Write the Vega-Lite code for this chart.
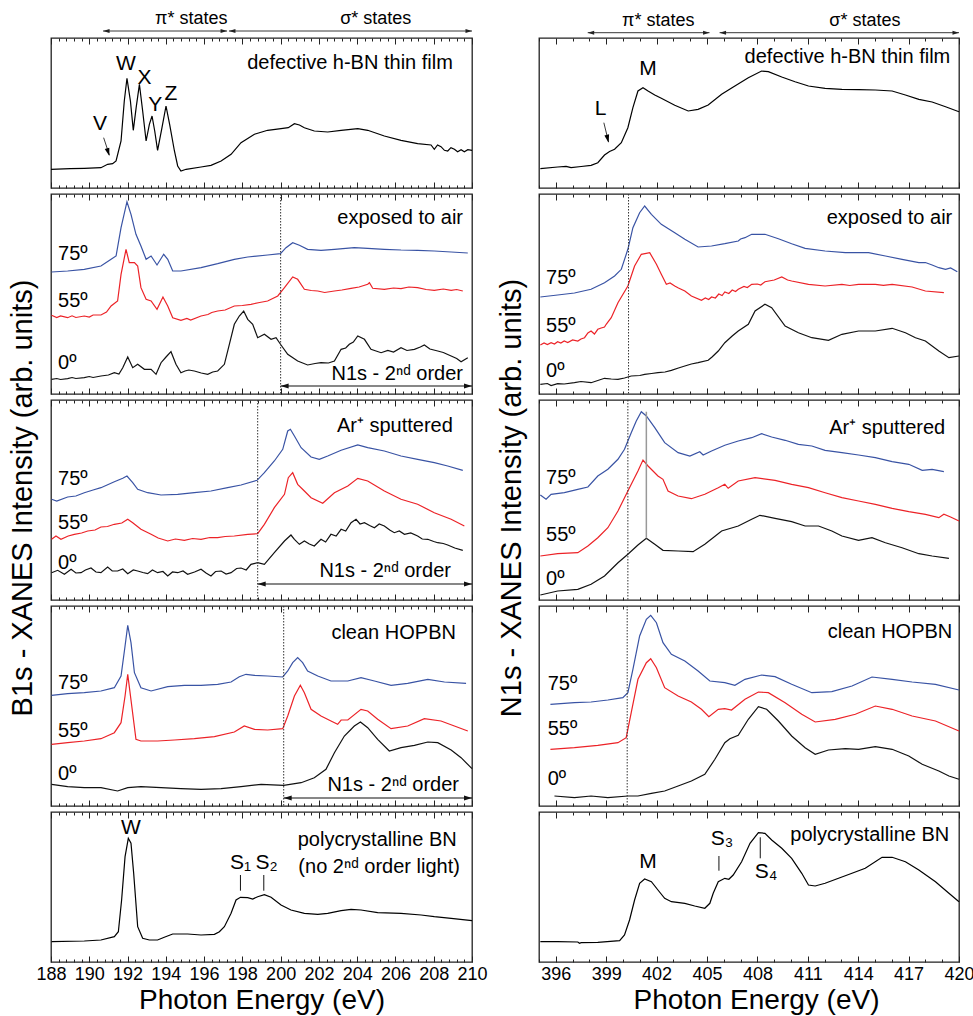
{
"$schema":"https://vega.github.io/schema/vega-lite/v6.json",
"background":"white",
"padding":{"left":8,"top":9,"right":0,"bottom":0},
"config":{
 "font":"Liberation Sans",
 "view":{"stroke":"#222","strokeWidth":1.3},
 "axis":{"domain":false,"grid":false,"ticks":true,"tickColor":"#222","tickWidth":1,"labelColor":"black","labelFontSize":18,"labelFont":"Liberation Sans","labelFlush":false,"labelOverlap":false,"titleColor":"black","titleFont":"Liberation Sans","titleFontWeight":"normal","titleFontSize":28},
 "text":{"font":"Liberation Sans","fill":"black"}
},
"datasets":{
"l1":[{"e":188.0,"v":18.7},{"e":189.0,"v":19.3},{"e":189.74,"v":19.7},{"e":190.61,"v":20.3},{"e":190.96,"v":23.7},{"e":191.22,"v":24.3},{"e":191.4,"v":27},{"e":191.66,"v":47},{"e":191.83,"v":87},{"e":191.97,"v":109.7},{"e":192.15,"v":87},{"e":192.3,"v":57.7},{"e":192.45,"v":80.3},{"e":192.62,"v":103.7},{"e":192.79,"v":77},{"e":192.97,"v":47},{"e":193.14,"v":63.7},{"e":193.28,"v":72},{"e":193.42,"v":57},{"e":193.57,"v":37.7},{"e":193.8,"v":60.3},{"e":194.01,"v":82},{"e":194.2,"v":63.7},{"e":194.45,"v":37},{"e":194.62,"v":22},{"e":194.79,"v":17},{"e":195.06,"v":18.7},{"e":195.84,"v":21},{"e":196.36,"v":22.7},{"e":196.89,"v":27},{"e":197.41,"v":33.7},{"e":197.93,"v":45.3},{"e":198.63,"v":53.7},{"e":199.32,"v":57.7},{"e":200.02,"v":59.3},{"e":200.4,"v":60.3},{"e":200.72,"v":64.3},{"e":200.98,"v":63},{"e":201.24,"v":60.3},{"e":201.76,"v":57},{"e":202.46,"v":56},{"e":203.16,"v":57.7},{"e":204.03,"v":59.3},{"e":204.55,"v":57.7},{"e":205.42,"v":52},{"e":206.29,"v":47.7},{"e":207.16,"v":44.3},{"e":207.86,"v":43},{"e":208.03,"v":38.7},{"e":208.2,"v":43},{"e":208.38,"v":41.3},{"e":208.56,"v":37.7},{"e":208.73,"v":37},{"e":208.9,"v":40.3},{"e":209.08,"v":38.7},{"e":209.25,"v":36.3},{"e":209.43,"v":38.3},{"e":209.6,"v":36.3},{"e":209.78,"v":38.3},{"e":210,"v":37.7}],
"r1":[{"e":395.08,"v":19.3},{"e":396.11,"v":21},{"e":396.61,"v":21.7},{"e":396.91,"v":20.3},{"e":397.51,"v":21.5},{"e":398.1,"v":22.7},{"e":398.5,"v":25.3},{"e":398.9,"v":33},{"e":399.2,"v":36.5},{"e":399.5,"v":38.7},{"e":399.9,"v":45.3},{"e":400.29,"v":60.3},{"e":400.59,"v":80.3},{"e":400.89,"v":97},{"e":401.19,"v":100.3},{"e":401.49,"v":97},{"e":401.89,"v":93},{"e":402.28,"v":89.7},{"e":403.08,"v":82.7},{"e":403.88,"v":77},{"e":404.47,"v":78.7},{"e":405.07,"v":83},{"e":405.87,"v":93.7},{"e":406.66,"v":102},{"e":407.46,"v":110.3},{"e":408.25,"v":117},{"e":408.65,"v":116.3},{"e":409.45,"v":111},{"e":410.24,"v":106.3},{"e":411.04,"v":102},{"e":412.03,"v":99.7},{"e":413.03,"v":98.7},{"e":414.02,"v":98.3},{"e":415.02,"v":98},{"e":416.02,"v":97},{"e":416.81,"v":93},{"e":417.61,"v":88.7},{"e":418.4,"v":86},{"e":419.2,"v":81.3},{"e":420,"v":76.3}],
"l2":[
{"s":"75","e":188.03,"v":122},{"s":"75","e":188.87,"v":123},{"s":"75","e":189.74,"v":124.7},{"s":"75","e":190.61,"v":128},{"s":"75","e":191.14,"v":134.7},{"s":"75","e":191.4,"v":138},{"s":"75","e":191.66,"v":166.3},{"s":"75","e":191.97,"v":192.3},{"s":"75","e":192.18,"v":179.7},{"s":"75","e":192.44,"v":159.7},{"s":"75","e":192.7,"v":148},{"s":"75","e":192.97,"v":134.7},{"s":"75","e":193.23,"v":138},{"s":"75","e":193.54,"v":129},{"s":"75","e":193.89,"v":139.7},{"s":"75","e":194.1,"v":134.7},{"s":"75","e":194.36,"v":123},{"s":"75","e":194.79,"v":123},{"s":"75","e":195.84,"v":126.3},{"s":"75","e":196.71,"v":130.3},{"s":"75","e":197.58,"v":134.7},{"s":"75","e":198.28,"v":137},{"s":"75","e":199.32,"v":139},{"s":"75","e":199.99,"v":140.3},{"s":"75","e":200.28,"v":146.3},{"s":"75","e":200.63,"v":151.3},{"s":"75","e":200.98,"v":148.7},{"s":"75","e":201.41,"v":144.7},{"s":"75","e":202.11,"v":143.7},{"s":"75","e":202.81,"v":144.7},{"s":"75","e":203.85,"v":146.3},{"s":"75","e":204.55,"v":145.7},{"s":"75","e":205.42,"v":144.7},{"s":"75","e":206.29,"v":144},{"s":"75","e":207.16,"v":143.7},{"s":"75","e":208.03,"v":143},{"s":"75","e":208.91,"v":142},{"s":"75","e":209.78,"v":141},
{"s":"55","e":188.03,"v":78.7},{"s":"55","e":188.3,"v":76.5},{"s":"55","e":188.5,"v":78},{"s":"55","e":188.87,"v":76.3},{"s":"55","e":189.1,"v":78.2},{"s":"55","e":189.3,"v":76.5},{"s":"55","e":189.74,"v":78},{"s":"55","e":190.0,"v":77},{"s":"55","e":190.2,"v":79},{"s":"55","e":190.61,"v":79},{"s":"55","e":190.9,"v":82},{"s":"55","e":191.14,"v":88},{"s":"55","e":191.48,"v":93},{"s":"55","e":191.66,"v":119.7},{"s":"55","e":191.92,"v":144.7},{"s":"55","e":192.09,"v":131.3},{"s":"55","e":192.36,"v":131.3},{"s":"55","e":192.53,"v":128},{"s":"55","e":192.7,"v":106.3},{"s":"55","e":192.97,"v":94.7},{"s":"55","e":193.23,"v":93},{"s":"55","e":193.54,"v":84.7},{"s":"55","e":193.85,"v":97},{"s":"55","e":194.1,"v":88},{"s":"55","e":194.36,"v":76.3},{"s":"55","e":194.79,"v":73.7},{"s":"55","e":195.1,"v":75.5},{"s":"55","e":195.3,"v":74},{"s":"55","e":195.84,"v":78},{"s":"55","e":196.2,"v":79.5},{"s":"55","e":196.4,"v":81.5},{"s":"55","e":196.71,"v":83},{"s":"55","e":197.1,"v":84},{"s":"55","e":197.58,"v":88},{"s":"55","e":198.0,"v":88.5},{"s":"55","e":198.45,"v":89.7},{"s":"55","e":198.9,"v":91.5},{"s":"55","e":199.32,"v":93},{"s":"55","e":199.85,"v":98},{"s":"55","e":200.2,"v":106.3},{"s":"55","e":200.63,"v":117},{"s":"55","e":200.89,"v":114.7},{"s":"55","e":201.24,"v":104.7},{"s":"55","e":201.6,"v":103.5},{"s":"55","e":201.94,"v":103},{"s":"55","e":202.3,"v":101.5},{"s":"55","e":202.81,"v":103},{"s":"55","e":203.2,"v":104},{"s":"55","e":203.68,"v":105.7},{"s":"55","e":204.1,"v":107},{"s":"55","e":204.55,"v":109.7},{"s":"55","e":204.64,"v":111.3},{"s":"55","e":204.81,"v":105.7},{"s":"55","e":205.42,"v":104.7},{"s":"55","e":205.9,"v":106},{"s":"55","e":206.29,"v":105.3},{"s":"55","e":206.7,"v":107},{"s":"55","e":207.16,"v":106.3},{"s":"55","e":207.6,"v":104.5},{"s":"55","e":208.03,"v":103.7},{"s":"55","e":208.5,"v":105},{"s":"55","e":208.91,"v":103.7},{"s":"55","e":209.2,"v":104.5},{"s":"55","e":209.52,"v":103},
{"s":"0","e":188.03,"v":14.7},{"s":"0","e":188.3,"v":15.5},{"s":"0","e":188.5,"v":14.5},{"s":"0","e":188.87,"v":15.3},{"s":"0","e":189.1,"v":16.5},{"s":"0","e":189.3,"v":15.5},{"s":"0","e":189.74,"v":16.3},{"s":"0","e":190.0,"v":17.5},{"s":"0","e":190.2,"v":16.5},{"s":"0","e":190.61,"v":18},{"s":"0","e":191.0,"v":19},{"s":"0","e":191.31,"v":21.3},{"s":"0","e":191.55,"v":20},{"s":"0","e":191.75,"v":26.3},{"s":"0","e":192.01,"v":37},{"s":"0","e":192.27,"v":26.3},{"s":"0","e":192.53,"v":29.7},{"s":"0","e":192.88,"v":24.7},{"s":"0","e":193.23,"v":24.7},{"s":"0","e":193.49,"v":19.7},{"s":"0","e":193.75,"v":31.3},{"s":"0","e":194.01,"v":37},{"s":"0","e":194.27,"v":42.3},{"s":"0","e":194.53,"v":29.7},{"s":"0","e":194.79,"v":21.3},{"s":"0","e":195.0,"v":23},{"s":"0","e":195.2,"v":24},{"s":"0","e":195.49,"v":23},{"s":"0","e":195.85,"v":21},{"s":"0","e":196.19,"v":19.7},{"s":"0","e":196.45,"v":22},{"s":"0","e":196.71,"v":23},{"s":"0","e":197.06,"v":29.7},{"s":"0","e":197.32,"v":49.7},{"s":"0","e":197.58,"v":69.7},{"s":"0","e":197.84,"v":78},{"s":"0","e":198.07,"v":83},{"s":"0","e":198.28,"v":74.7},{"s":"0","e":198.54,"v":69.7},{"s":"0","e":198.8,"v":56.3},{"s":"0","e":199.15,"v":59.7},{"s":"0","e":199.5,"v":54.7},{"s":"0","e":199.76,"v":56.3},{"s":"0","e":200.02,"v":49},{"s":"0","e":200.37,"v":39.7},{"s":"0","e":200.89,"v":33},{"s":"0","e":201.41,"v":29},{"s":"0","e":201.8,"v":30.5},{"s":"0","e":202.11,"v":31.3},{"s":"0","e":202.5,"v":31},{"s":"0","e":202.81,"v":33},{"s":"0","e":203.16,"v":44.7},{"s":"0","e":203.4,"v":46},{"s":"0","e":203.59,"v":49.7},{"s":"0","e":203.8,"v":52},{"s":"0","e":204.03,"v":58},{"s":"0","e":204.38,"v":54.7},{"s":"0","e":204.72,"v":44.7},{"s":"0","e":205.25,"v":41.3},{"s":"0","e":205.6,"v":43.5},{"s":"0","e":205.9,"v":42},{"s":"0","e":206.29,"v":46.3},{"s":"0","e":206.6,"v":43.5},{"s":"0","e":206.99,"v":44.7},{"s":"0","e":207.3,"v":47},{"s":"0","e":207.51,"v":49},{"s":"0","e":207.8,"v":45},{"s":"0","e":208.21,"v":43},{"s":"0","e":208.5,"v":41.5},{"s":"0","e":208.91,"v":38},{"s":"0","e":209.2,"v":35.5},{"s":"0","e":209.43,"v":32.3},{"s":"0","e":209.78,"v":36.3}],
"r2":[
{"s":"75","e":395.08,"v":97},{"s":"75","e":396.11,"v":99},{"s":"75","e":397.11,"v":101},{"s":"75","e":398.1,"v":104.7},{"s":"75","e":398.9,"v":111.3},{"s":"75","e":399.5,"v":118},{"s":"75","e":399.9,"v":124.7},{"s":"75","e":400.29,"v":144.7},{"s":"75","e":400.59,"v":166.3},{"s":"75","e":400.99,"v":181.3},{"s":"75","e":401.29,"v":188},{"s":"75","e":401.69,"v":179.7},{"s":"75","e":402.28,"v":169.7},{"s":"75","e":403.08,"v":161.3},{"s":"75","e":403.68,"v":154.7},{"s":"75","e":404.47,"v":147},{"s":"75","e":405.27,"v":148},{"s":"75","e":406.06,"v":150.3},{"s":"75","e":406.86,"v":153},{"s":"75","e":407.0,"v":155},{"s":"75","e":407.26,"v":156.3},{"s":"75","e":407.66,"v":159.7},{"s":"75","e":408.45,"v":159.7},{"s":"75","e":409.25,"v":155.3},{"s":"75","e":410.04,"v":150.3},{"s":"75","e":410.84,"v":145.7},{"s":"75","e":412.03,"v":143},{"s":"75","e":413.23,"v":141.3},{"s":"75","e":414.62,"v":141.3},{"s":"75","e":415.62,"v":138},{"s":"75","e":416.61,"v":134.7},{"s":"75","e":417.61,"v":131.3},{"s":"75","e":418.0,"v":131.5},{"s":"75","e":418.4,"v":129},{"s":"75","e":418.8,"v":126.3},{"s":"75","e":419.2,"v":124.7},{"s":"75","e":419.5,"v":126},{"s":"75","e":419.9,"v":122.3},
{"s":"55","e":395.08,"v":49},{"s":"55","e":395.3,"v":51},{"s":"55","e":395.5,"v":49.5},{"s":"55","e":395.72,"v":51.3},{"s":"55","e":395.92,"v":50},{"s":"55","e":396.11,"v":52.3},{"s":"55","e":396.3,"v":51},{"s":"55","e":396.5,"v":53},{"s":"55","e":396.71,"v":51.5},{"s":"55","e":397.0,"v":54},{"s":"55","e":397.31,"v":53},{"s":"55","e":397.5,"v":55},{"s":"55","e":397.71,"v":56.3},{"s":"55","e":397.91,"v":61},{"s":"55","e":398.1,"v":63},{"s":"55","e":398.3,"v":60},{"s":"55","e":398.5,"v":64.7},{"s":"55","e":398.7,"v":66},{"s":"55","e":398.9,"v":67},{"s":"55","e":399.0,"v":69.7},{"s":"55","e":399.3,"v":76.3},{"s":"55","e":399.7,"v":91.3},{"s":"55","e":400.29,"v":108},{"s":"55","e":400.69,"v":128},{"s":"55","e":401.09,"v":139.7},{"s":"55","e":401.59,"v":141.3},{"s":"55","e":401.99,"v":129.7},{"s":"55","e":402.28,"v":119.7},{"s":"55","e":402.58,"v":109.7},{"s":"55","e":402.8,"v":111},{"s":"55","e":403.08,"v":108},{"s":"55","e":403.3,"v":106},{"s":"55","e":403.68,"v":103},{"s":"55","e":404.07,"v":98},{"s":"55","e":404.67,"v":93.7},{"s":"55","e":404.9,"v":96},{"s":"55","e":405.1,"v":94.5},{"s":"55","e":405.27,"v":97},{"s":"55","e":405.5,"v":96},{"s":"55","e":405.7,"v":100},{"s":"55","e":405.9,"v":98.5},{"s":"55","e":406.06,"v":102},{"s":"55","e":406.3,"v":100.5},{"s":"55","e":406.5,"v":104},{"s":"55","e":406.7,"v":102.5},{"s":"55","e":406.86,"v":104.7},{"s":"55","e":407.2,"v":107.5},{"s":"55","e":407.4,"v":106.5},{"s":"55","e":407.66,"v":109.7},{"s":"55","e":408.0,"v":110},{"s":"55","e":408.2,"v":109},{"s":"55","e":408.45,"v":112.3},{"s":"55","e":409.0,"v":114},{"s":"55","e":409.45,"v":117},{"s":"55","e":409.8,"v":114},{"s":"55","e":410.04,"v":113},{"s":"55","e":411.04,"v":109.7},{"s":"55","e":412.03,"v":108},{"s":"55","e":413.03,"v":109.7},{"s":"55","e":413.5,"v":108.5},{"s":"55","e":414.02,"v":109.7},{"s":"55","e":415.02,"v":109.7},{"s":"55","e":415.5,"v":108.7},{"s":"55","e":416.02,"v":109.7},{"s":"55","e":417.21,"v":107},{"s":"55","e":418.0,"v":103},{"s":"55","e":419.1,"v":101.3},
{"s":"0","e":395.08,"v":9.7},{"s":"0","e":395.5,"v":10.5},{"s":"0","e":395.72,"v":8.5},{"s":"0","e":396.11,"v":10.3},{"s":"0","e":396.5,"v":10},{"s":"0","e":397.11,"v":11.3},{"s":"0","e":397.5,"v":12.5},{"s":"0","e":398.1,"v":11.3},{"s":"0","e":398.5,"v":13.5},{"s":"0","e":398.9,"v":15.7},{"s":"0","e":399.3,"v":15},{"s":"0","e":399.7,"v":14.7},{"s":"0","e":400.09,"v":16},{"s":"0","e":400.49,"v":18},{"s":"0","e":401.0,"v":18.5},{"s":"0","e":401.29,"v":19.7},{"s":"0","e":401.7,"v":20.5},{"s":"0","e":402.08,"v":21.3},{"s":"0","e":402.5,"v":22},{"s":"0","e":402.88,"v":23.7},{"s":"0","e":403.3,"v":26},{"s":"0","e":403.68,"v":28},{"s":"0","e":404.07,"v":30},{"s":"0","e":404.47,"v":31.3},{"s":"0","e":405.07,"v":33.7},{"s":"0","e":405.3,"v":37},{"s":"0","e":405.67,"v":43},{"s":"0","e":406.06,"v":51.3},{"s":"0","e":406.5,"v":58},{"s":"0","e":406.86,"v":63},{"s":"0","e":407.46,"v":69.7},{"s":"0","e":407.86,"v":83},{"s":"0","e":408.45,"v":89.7},{"s":"0","e":408.85,"v":86.3},{"s":"0","e":409.65,"v":68},{"s":"0","e":410.44,"v":61.3},{"s":"0","e":411.24,"v":56.3},{"s":"0","e":412.23,"v":53.7},{"s":"0","e":413.03,"v":59.7},{"s":"0","e":414.02,"v":63},{"s":"0","e":415.02,"v":63},{"s":"0","e":416.02,"v":65.7},{"s":"0","e":416.81,"v":61.3},{"s":"0","e":417.41,"v":56.3},{"s":"0","e":418.0,"v":53},{"s":"0","e":418.8,"v":43},{"s":"0","e":419.4,"v":36.3},{"s":"0","e":420,"v":38}],
"l3":[
{"s":"75","e":188.03,"v":100.7},{"s":"75","e":188.3,"v":99},{"s":"75","e":188.87,"v":103},{"s":"75","e":189.3,"v":104},{"s":"75","e":189.74,"v":107.3},{"s":"75","e":190.2,"v":110},{"s":"75","e":190.61,"v":112.3},{"s":"75","e":191.31,"v":118.3},{"s":"75","e":191.75,"v":121.7},{"s":"75","e":191.97,"v":124},{"s":"75","e":192.27,"v":117.3},{"s":"75","e":192.53,"v":110.7},{"s":"75","e":193.05,"v":107.3},{"s":"75","e":193.75,"v":105},{"s":"75","e":194.62,"v":105.7},{"s":"75","e":195.49,"v":107.3},{"s":"75","e":196.36,"v":109},{"s":"75","e":197.23,"v":112.3},{"s":"75","e":197.93,"v":115},{"s":"75","e":198.77,"v":119.7},{"s":"75","e":199.15,"v":127.3},{"s":"75","e":199.67,"v":139},{"s":"75","e":200.11,"v":150.7},{"s":"75","e":200.37,"v":169},{"s":"75","e":200.51,"v":170.7},{"s":"75","e":200.72,"v":164},{"s":"75","e":201.07,"v":152.3},{"s":"75","e":201.59,"v":143},{"s":"75","e":202.02,"v":140.7},{"s":"75","e":202.46,"v":144},{"s":"75","e":203.16,"v":149.7},{"s":"75","e":204.03,"v":155},{"s":"75","e":204.55,"v":152.3},{"s":"75","e":205.42,"v":149},{"s":"75","e":206.29,"v":144},{"s":"75","e":207.16,"v":140.7},{"s":"75","e":208.03,"v":137.3},{"s":"75","e":208.73,"v":134},{"s":"75","e":209.52,"v":129.7},
{"s":"55","e":188.03,"v":60.7},{"s":"55","e":188.26,"v":64},{"s":"55","e":188.52,"v":60.7},{"s":"55","e":188.9,"v":64},{"s":"55","e":189.22,"v":65.7},{"s":"55","e":189.6,"v":67},{"s":"55","e":189.92,"v":69},{"s":"55","e":190.3,"v":70},{"s":"55","e":190.61,"v":73},{"s":"55","e":190.95,"v":73.5},{"s":"55","e":191.31,"v":75.7},{"s":"55","e":191.7,"v":77},{"s":"55","e":192.01,"v":80.7},{"s":"55","e":192.27,"v":77.3},{"s":"55","e":192.7,"v":70.7},{"s":"55","e":193.23,"v":65.7},{"s":"55","e":193.6,"v":62},{"s":"55","e":194.1,"v":59},{"s":"55","e":194.5,"v":61},{"s":"55","e":194.97,"v":59.7},{"s":"55","e":195.4,"v":61.5},{"s":"55","e":195.84,"v":60.7},{"s":"55","e":196.3,"v":62.5},{"s":"55","e":196.71,"v":62.3},{"s":"55","e":197.1,"v":63.5},{"s":"55","e":197.58,"v":64},{"s":"55","e":198.28,"v":65.7},{"s":"55","e":198.8,"v":66.3},{"s":"55","e":199.15,"v":75.7},{"s":"55","e":199.67,"v":92.3},{"s":"55","e":200.2,"v":105.7},{"s":"55","e":200.4,"v":122.3},{"s":"55","e":200.63,"v":127.3},{"s":"55","e":200.89,"v":115.7},{"s":"55","e":201.24,"v":109},{"s":"55","e":201.59,"v":102.3},{"s":"55","e":202.2,"v":96.7},{"s":"55","e":202.81,"v":107.3},{"s":"55","e":203.51,"v":114},{"s":"55","e":204.03,"v":121.7},{"s":"55","e":204.55,"v":119},{"s":"55","e":205.42,"v":109},{"s":"55","e":206.29,"v":100.7},{"s":"55","e":207.16,"v":95.7},{"s":"55","e":208.03,"v":87.3},{"s":"55","e":208.91,"v":80.7},{"s":"55","e":209.6,"v":74},
{"s":"0","e":188.03,"v":27.3},{"s":"0","e":188.35,"v":29.7},{"s":"0","e":188.7,"v":25.7},{"s":"0","e":189.05,"v":30.7},{"s":"0","e":189.3,"v":27},{"s":"0","e":189.57,"v":27.3},{"s":"0","e":189.8,"v":30},{"s":"0","e":190.09,"v":32},{"s":"0","e":190.35,"v":28},{"s":"0","e":190.61,"v":27.3},{"s":"0","e":190.96,"v":33},{"s":"0","e":191.2,"v":29},{"s":"0","e":191.48,"v":29},{"s":"0","e":191.75,"v":31},{"s":"0","e":192.01,"v":26.3},{"s":"0","e":192.3,"v":30},{"s":"0","e":192.53,"v":29},{"s":"0","e":192.8,"v":27.5},{"s":"0","e":193.05,"v":26.3},{"s":"0","e":193.3,"v":30},{"s":"0","e":193.57,"v":27.3},{"s":"0","e":193.85,"v":28.5},{"s":"0","e":194.1,"v":24},{"s":"0","e":194.35,"v":28},{"s":"0","e":194.62,"v":27.3},{"s":"0","e":194.9,"v":29},{"s":"0","e":195.14,"v":25.7},{"s":"0","e":195.5,"v":28},{"s":"0","e":195.84,"v":30.7},{"s":"0","e":196.1,"v":27},{"s":"0","e":196.36,"v":24},{"s":"0","e":196.6,"v":28.5},{"s":"0","e":196.89,"v":29},{"s":"0","e":197.15,"v":26},{"s":"0","e":197.41,"v":27.3},{"s":"0","e":197.7,"v":31.5},{"s":"0","e":197.93,"v":32},{"s":"0","e":198.2,"v":30},{"s":"0","e":198.45,"v":35.7},{"s":"0","e":198.8,"v":37.3},{"s":"0","e":199.15,"v":35.7},{"s":"0","e":199.67,"v":47.3},{"s":"0","e":200.2,"v":59},{"s":"0","e":200.54,"v":65},{"s":"0","e":200.72,"v":60.7},{"s":"0","e":200.98,"v":55.7},{"s":"0","e":201.24,"v":59},{"s":"0","e":201.5,"v":56},{"s":"0","e":201.76,"v":54},{"s":"0","e":202.11,"v":60.7},{"s":"0","e":202.35,"v":58},{"s":"0","e":202.63,"v":65.7},{"s":"0","e":202.9,"v":64},{"s":"0","e":203.16,"v":70.7},{"s":"0","e":203.4,"v":69},{"s":"0","e":203.68,"v":77.3},{"s":"0","e":203.94,"v":80.7},{"s":"0","e":204.15,"v":76},{"s":"0","e":204.38,"v":77.3},{"s":"0","e":204.65,"v":74.5},{"s":"0","e":204.9,"v":72.3},{"s":"0","e":205.15,"v":76},{"s":"0","e":205.42,"v":74},{"s":"0","e":205.7,"v":70},{"s":"0","e":205.94,"v":67.3},{"s":"0","e":206.2,"v":69},{"s":"0","e":206.47,"v":65.7},{"s":"0","e":206.8,"v":67},{"s":"0","e":207.16,"v":64},{"s":"0","e":207.4,"v":61},{"s":"0","e":207.69,"v":60.7},{"s":"0","e":208.0,"v":58.5},{"s":"0","e":208.21,"v":57.3},{"s":"0","e":208.5,"v":56.5},{"s":"0","e":208.73,"v":55},{"s":"0","e":209.1,"v":52},{"s":"0","e":209.52,"v":49.7}],
"r3":[
{"s":"75","e":395.08,"v":105},{"s":"75","e":395.42,"v":100.7},{"s":"75","e":395.72,"v":105.7},{"s":"75","e":396.51,"v":107.3},{"s":"75","e":397.31,"v":110.7},{"s":"75","e":397.91,"v":113},{"s":"75","e":398.5,"v":124},{"s":"75","e":399.1,"v":130.7},{"s":"75","e":399.7,"v":140.7},{"s":"75","e":400.09,"v":150.7},{"s":"75","e":400.49,"v":167.3},{"s":"75","e":400.79,"v":179},{"s":"75","e":401.09,"v":188.3},{"s":"75","e":401.39,"v":184},{"s":"75","e":401.89,"v":172.3},{"s":"75","e":402.48,"v":157.3},{"s":"75","e":403.28,"v":147.3},{"s":"75","e":403.98,"v":144},{"s":"75","e":404.57,"v":148.3},{"s":"75","e":404.77,"v":145},{"s":"75","e":405.27,"v":149},{"s":"75","e":406.06,"v":154.7},{"s":"75","e":406.86,"v":159},{"s":"75","e":407.66,"v":162.3},{"s":"75","e":408.25,"v":166.3},{"s":"75","e":408.85,"v":163},{"s":"75","e":409.65,"v":159.7},{"s":"75","e":410.44,"v":155.7},{"s":"75","e":411.24,"v":154},{"s":"75","e":412.03,"v":149.7},{"s":"75","e":413.03,"v":147.3},{"s":"75","e":414.02,"v":145},{"s":"75","e":415.02,"v":142.3},{"s":"75","e":416.02,"v":138.3},{"s":"75","e":417.01,"v":135.7},{"s":"75","e":417.81,"v":129.7},{"s":"75","e":418.4,"v":130.7},{"s":"75","e":419.1,"v":128.3},
{"s":"55","e":395.08,"v":44},{"s":"55","e":396.11,"v":46.3},{"s":"55","e":397.31,"v":47.3},{"s":"55","e":397.91,"v":54},{"s":"55","e":398.5,"v":62.3},{"s":"55","e":399.1,"v":72.3},{"s":"55","e":399.7,"v":89},{"s":"55","e":400.29,"v":109},{"s":"55","e":400.89,"v":129},{"s":"55","e":401.19,"v":140},{"s":"55","e":401.49,"v":134},{"s":"55","e":402.08,"v":124},{"s":"55","e":402.38,"v":120.7},{"s":"55","e":402.68,"v":109},{"s":"55","e":403.28,"v":104},{"s":"55","e":404.07,"v":101.3},{"s":"55","e":404.87,"v":105.7},{"s":"55","e":405.67,"v":112.3},{"s":"55","e":406.06,"v":115.7},{"s":"55","e":406.26,"v":111.7},{"s":"55","e":406.86,"v":119},{"s":"55","e":407.86,"v":122.3},{"s":"55","e":409.05,"v":119.7},{"s":"55","e":410.04,"v":115.7},{"s":"55","e":411.04,"v":112.3},{"s":"55","e":412.03,"v":107.3},{"s":"55","e":413.03,"v":102.3},{"s":"55","e":414.02,"v":99},{"s":"55","e":415.02,"v":95.7},{"s":"55","e":416.02,"v":91.7},{"s":"55","e":417.01,"v":88.3},{"s":"55","e":418.0,"v":85.7},{"s":"55","e":418.8,"v":82.3},{"s":"55","e":419.1,"v":85.7},{"s":"55","e":419.5,"v":83},{"s":"55","e":420,"v":79},
{"s":"0","e":395.08,"v":5},{"s":"0","e":396.11,"v":9},{"s":"0","e":397.31,"v":10.7},{"s":"0","e":398.1,"v":15.7},{"s":"0","e":398.9,"v":24},{"s":"0","e":399.7,"v":37.3},{"s":"0","e":400.29,"v":45.7},{"s":"0","e":400.89,"v":55},{"s":"0","e":401.39,"v":61.7},{"s":"0","e":401.89,"v":55.7},{"s":"0","e":402.38,"v":49.7},{"s":"0","e":403.28,"v":49},{"s":"0","e":404.17,"v":48.3},{"s":"0","e":404.87,"v":55.7},{"s":"0","e":405.87,"v":69},{"s":"0","e":406.86,"v":74},{"s":"0","e":407.66,"v":80.7},{"s":"0","e":408.15,"v":84.7},{"s":"0","e":409.05,"v":81.7},{"s":"0","e":410.04,"v":78.3},{"s":"0","e":410.84,"v":74},{"s":"0","e":411.64,"v":74},{"s":"0","e":412.43,"v":69},{"s":"0","e":413.03,"v":64},{"s":"0","e":414.02,"v":59.7},{"s":"0","e":414.82,"v":62.3},{"s":"0","e":415.62,"v":57.3},{"s":"0","e":416.61,"v":52.3},{"s":"0","e":417.61,"v":46.3},{"s":"0","e":418.4,"v":44},{"s":"0","e":419.4,"v":41.7}],
"l4":[
{"s":"75","e":188.03,"v":110.7},{"s":"75","e":188.87,"v":112.3},{"s":"75","e":189.74,"v":113.3},{"s":"75","e":190.61,"v":115},{"s":"75","e":191.31,"v":118.3},{"s":"75","e":191.66,"v":130},{"s":"75","e":191.87,"v":160},{"s":"75","e":192.01,"v":180.7},{"s":"75","e":192.18,"v":163.3},{"s":"75","e":192.36,"v":133.3},{"s":"75","e":192.7,"v":118.3},{"s":"75","e":193.23,"v":115},{"s":"75","e":194.1,"v":119.3},{"s":"75","e":194.97,"v":120.7},{"s":"75","e":195.84,"v":120.7},{"s":"75","e":196.71,"v":121.7},{"s":"75","e":197.41,"v":124},{"s":"75","e":197.84,"v":129.3},{"s":"75","e":198.19,"v":131.7},{"s":"75","e":198.63,"v":130.7},{"s":"75","e":199.32,"v":130},{"s":"75","e":200.11,"v":129},{"s":"75","e":200.37,"v":135},{"s":"75","e":200.63,"v":143.3},{"s":"75","e":200.89,"v":148.3},{"s":"75","e":201.15,"v":143.3},{"s":"75","e":201.41,"v":135},{"s":"75","e":201.94,"v":130},{"s":"75","e":202.63,"v":125},{"s":"75","e":203.51,"v":125},{"s":"75","e":204.2,"v":128.3},{"s":"75","e":204.9,"v":125},{"s":"75","e":205.77,"v":120.7},{"s":"75","e":206.64,"v":122.7},{"s":"75","e":207.69,"v":126.7},{"s":"75","e":208.56,"v":124},{"s":"75","e":209.69,"v":122.7},
{"s":"55","e":188.03,"v":61.7},{"s":"55","e":188.87,"v":63.3},{"s":"55","e":189.74,"v":65},{"s":"55","e":190.61,"v":67.3},{"s":"55","e":191.31,"v":73.3},{"s":"55","e":191.66,"v":83.3},{"s":"55","e":191.87,"v":110},{"s":"55","e":192.01,"v":131.7},{"s":"55","e":192.22,"v":100},{"s":"55","e":192.44,"v":66.7},{"s":"55","e":192.7,"v":65},{"s":"55","e":193.57,"v":65},{"s":"55","e":194.45,"v":66},{"s":"55","e":195.49,"v":67.3},{"s":"55","e":196.54,"v":69.3},{"s":"55","e":197.58,"v":74},{"s":"55","e":198.1,"v":80},{"s":"55","e":198.63,"v":76.7},{"s":"55","e":199.32,"v":76},{"s":"55","e":200.11,"v":77.3},{"s":"55","e":200.37,"v":90},{"s":"55","e":200.72,"v":110},{"s":"55","e":201.03,"v":120.7},{"s":"55","e":201.24,"v":113.3},{"s":"55","e":201.59,"v":96.7},{"s":"55","e":202.11,"v":90},{"s":"55","e":202.63,"v":85},{"s":"55","e":202.98,"v":81.7},{"s":"55","e":203.16,"v":86},{"s":"55","e":203.51,"v":86},{"s":"55","e":204.2,"v":96.7},{"s":"55","e":204.55,"v":95},{"s":"55","e":205.07,"v":86.7},{"s":"55","e":205.77,"v":77.3},{"s":"55","e":206.64,"v":80},{"s":"55","e":207.51,"v":87.3},{"s":"55","e":208.38,"v":85},{"s":"55","e":209.08,"v":80},{"s":"55","e":209.78,"v":75},
{"s":"0","e":188.03,"v":21.7},{"s":"0","e":188.87,"v":19.3},{"s":"0","e":189.74,"v":18.3},{"s":"0","e":190.61,"v":18.3},{"s":"0","e":191.48,"v":15},{"s":"0","e":192.01,"v":18.3},{"s":"0","e":192.7,"v":19.3},{"s":"0","e":193.75,"v":18.3},{"s":"0","e":194.79,"v":17.3},{"s":"0","e":195.84,"v":16.7},{"s":"0","e":196.89,"v":17.3},{"s":"0","e":197.93,"v":19.3},{"s":"0","e":198.98,"v":21.7},{"s":"0","e":200.16,"v":20.7},{"s":"0","e":201.07,"v":23.3},{"s":"0","e":201.76,"v":28.3},{"s":"0","e":202.37,"v":36.7},{"s":"0","e":202.81,"v":53.3},{"s":"0","e":203.33,"v":70},{"s":"0","e":203.85,"v":80},{"s":"0","e":204.17,"v":84},{"s":"0","e":204.55,"v":78.3},{"s":"0","e":205.07,"v":66.7},{"s":"0","e":205.68,"v":55},{"s":"0","e":206.29,"v":58.3},{"s":"0","e":206.99,"v":60.7},{"s":"0","e":207.69,"v":64},{"s":"0","e":208.21,"v":63.3},{"s":"0","e":208.91,"v":56},{"s":"0","e":209.43,"v":48.3},{"s":"0","e":210,"v":37.3}],
"r4":[
{"s":"75","e":395.68,"v":101.7},{"s":"75","e":397.11,"v":103.3},{"s":"75","e":398.1,"v":104},{"s":"75","e":399.1,"v":106},{"s":"75","e":399.99,"v":108.3},{"s":"75","e":400.29,"v":113.3},{"s":"75","e":400.59,"v":136.7},{"s":"75","e":400.99,"v":170},{"s":"75","e":401.39,"v":186.7},{"s":"75","e":401.65,"v":190.7},{"s":"75","e":401.99,"v":183.3},{"s":"75","e":402.38,"v":163.3},{"s":"75","e":402.88,"v":151.7},{"s":"75","e":403.68,"v":145},{"s":"75","e":404.47,"v":135},{"s":"75","e":405.17,"v":125},{"s":"75","e":406.06,"v":123.3},{"s":"75","e":406.66,"v":120.7},{"s":"75","e":407.26,"v":126.7},{"s":"75","e":408.25,"v":131},{"s":"75","e":409.05,"v":129.3},{"s":"75","e":410.04,"v":121.7},{"s":"75","e":411.24,"v":113.3},{"s":"75","e":412.43,"v":114.3},{"s":"75","e":413.63,"v":120},{"s":"75","e":414.82,"v":129},{"s":"75","e":416.02,"v":126.7},{"s":"75","e":417.21,"v":124},{"s":"75","e":418.6,"v":121.7},{"s":"75","e":420,"v":116},
{"s":"55","e":395.68,"v":56.7},{"s":"55","e":397.11,"v":58.3},{"s":"55","e":398.5,"v":60.7},{"s":"55","e":399.7,"v":63.3},{"s":"55","e":400.19,"v":68.3},{"s":"55","e":400.49,"v":93.3},{"s":"55","e":400.89,"v":126.7},{"s":"55","e":401.39,"v":143.3},{"s":"55","e":401.65,"v":147.3},{"s":"55","e":401.99,"v":138.3},{"s":"55","e":402.48,"v":118.3},{"s":"55","e":403.28,"v":110},{"s":"55","e":404.07,"v":104},{"s":"55","e":404.67,"v":96.7},{"s":"55","e":405.11,"v":89.3},{"s":"55","e":405.67,"v":96.7},{"s":"55","e":406.06,"v":97.3},{"s":"55","e":406.46,"v":96},{"s":"55","e":407.26,"v":106.7},{"s":"55","e":408.06,"v":114},{"s":"55","e":408.65,"v":113.3},{"s":"55","e":409.65,"v":103.3},{"s":"55","e":410.64,"v":91.7},{"s":"55","e":411.44,"v":84},{"s":"55","e":412.63,"v":86.7},{"s":"55","e":413.83,"v":91.7},{"s":"55","e":415.02,"v":100},{"s":"55","e":416.02,"v":96.7},{"s":"55","e":417.21,"v":90},{"s":"55","e":418.6,"v":85},{"s":"55","e":420,"v":75},
{"s":"0","e":395.92,"v":10},{"s":"0","e":397.11,"v":8.3},{"s":"0","e":398.1,"v":10},{"s":"0","e":399.1,"v":8.3},{"s":"0","e":400.29,"v":10},{"s":"0","e":400.89,"v":10},{"s":"0","e":401.69,"v":12.7},{"s":"0","e":402.48,"v":15},{"s":"0","e":403.28,"v":20},{"s":"0","e":404.07,"v":25},{"s":"0","e":404.87,"v":31.7},{"s":"0","e":405.47,"v":46.7},{"s":"0","e":406.06,"v":63.3},{"s":"0","e":406.36,"v":67.3},{"s":"0","e":406.86,"v":70.7},{"s":"0","e":407.46,"v":86.7},{"s":"0","e":408.06,"v":99.3},{"s":"0","e":408.55,"v":96.7},{"s":"0","e":409.25,"v":85},{"s":"0","e":410.04,"v":70},{"s":"0","e":410.84,"v":58.3},{"s":"0","e":411.44,"v":51.7},{"s":"0","e":412.23,"v":56},{"s":"0","e":413.23,"v":57.3},{"s":"0","e":414.02,"v":56.7},{"s":"0","e":415.02,"v":59.3},{"s":"0","e":416.02,"v":56.7},{"s":"0","e":417.01,"v":50},{"s":"0","e":417.81,"v":41.7},{"s":"0","e":418.8,"v":35},{"s":"0","e":419.4,"v":30},{"s":"0","e":420,"v":26.7}],
"l5":[{"e":188.03,"v":20.3},{"e":189.74,"v":21},{"e":190.61,"v":22},{"e":191.31,"v":25.3},{"e":191.52,"v":30.3},{"e":191.69,"v":62},{"e":191.87,"v":105.3},{"e":192.04,"v":123.7},{"e":192.18,"v":118.7},{"e":192.32,"v":88.7},{"e":192.53,"v":35.3},{"e":192.79,"v":23.7},{"e":193.14,"v":22},{"e":193.57,"v":22},{"e":193.92,"v":24.7},{"e":194.36,"v":28},{"e":195.14,"v":28},{"e":195.84,"v":27},{"e":196.54,"v":27.7},{"e":196.8,"v":30.3},{"e":197.06,"v":35.3},{"e":197.41,"v":48.7},{"e":197.67,"v":62},{"e":197.9,"v":64.7},{"e":198.28,"v":64.3},{"e":198.54,"v":63},{"e":198.8,"v":65.3},{"e":199.15,"v":67.3},{"e":199.5,"v":64.7},{"e":200.02,"v":57},{"e":200.54,"v":52},{"e":201.24,"v":48.7},{"e":201.94,"v":47.7},{"e":202.46,"v":48.7},{"e":203.16,"v":51.3},{"e":203.68,"v":52.7},{"e":204.2,"v":52},{"e":205.07,"v":49.3},{"e":206.29,"v":48.7},{"e":207.34,"v":47},{"e":208.03,"v":45.3},{"e":208.91,"v":43.7},{"e":210,"v":41.3}],
"r5":[{"e":395.08,"v":20.3},{"e":396.11,"v":20.3},{"e":397.31,"v":20},{"e":397.41,"v":18.7},{"e":397.51,"v":19.3},{"e":398.5,"v":19.7},{"e":399.8,"v":21.3},{"e":400.09,"v":27},{"e":400.39,"v":42},{"e":400.69,"v":62},{"e":400.99,"v":78.7},{"e":401.29,"v":83},{"e":401.69,"v":80.3},{"e":402.08,"v":72},{"e":402.48,"v":63.7},{"e":402.88,"v":60.3},{"e":403.68,"v":58.7},{"e":404.27,"v":56},{"e":404.87,"v":53.7},{"e":405.17,"v":58.7},{"e":405.37,"v":68.7},{"e":405.67,"v":80.3},{"e":406.06,"v":83.7},{"e":406.3,"v":82.7},{"e":406.56,"v":87},{"e":407.06,"v":100.3},{"e":407.56,"v":118.7},{"e":408.06,"v":129.3},{"e":408.45,"v":128.7},{"e":408.85,"v":122},{"e":409.45,"v":113.7},{"e":410.04,"v":103.7},{"e":410.64,"v":88.7},{"e":411.04,"v":77},{"e":411.44,"v":76},{"e":412.03,"v":78.7},{"e":412.83,"v":83.7},{"e":413.63,"v":88.7},{"e":414.42,"v":93.7},{"e":415.42,"v":104.7},{"e":416.02,"v":104.7},{"e":416.81,"v":100.3},{"e":417.61,"v":92},{"e":418.6,"v":80.3},{"e":419.4,"v":68.7},{"e":420,"v":60.3}]
},
"columns":2,
"spacing":{"row":6,"column":67},
"bounds":"flush",
"concat":[
{
 "width":421,"height":150,
 "resolve":{"axis":{"x":"independent"}},
 "layer":[
  {"data":{"name":"l1"},"mark":{"type":"line","stroke":"black","strokeWidth":1.2},
   "encoding":{"x":{"field":"e","type":"quantitative","scale":{"domain":[188,210],"nice":false,"zero":false},"axis":{"orient":"bottom","values":[188,188.4,188.8,189.2,189.6,190,190.4,190.8,191.2,191.6,192,192.4,192.8,193.2,193.6,194,194.4,194.8,195.2,195.6,196,196.4,196.8,197.2,197.6,198,198.4,198.8,199.2,199.6,200,200.4,200.8,201.2,201.6,202,202.4,202.8,203.2,203.6,204,204.4,204.8,205.2,205.6,206,206.4,206.8,207.2,207.6,208,208.4,208.8,209.2,209.6,210],"labels":false,"title":null,"tickSize":{"condition":{"test":"abs(datum.value/2-round(datum.value/2))<0.01","value":-6},"value":-3}}},
               "y":{"field":"v","type":"quantitative","scale":{"domain":[0,150],"nice":false,"zero":false},"axis":null}}},
  {"data":{"values":[{"e":209.0,"v":125,"t":"defective h-BN thin film"}]},"mark":{"type":"text","align":"right","baseline":"middle","fontSize":20},
   "encoding":{"x":{"field":"e","type":"quantitative","scale":{"domain":[188,210],"nice":false,"zero":false},"axis":{"orient":"top","values":[188,188.4,188.8,189.2,189.6,190,190.4,190.8,191.2,191.6,192,192.4,192.8,193.2,193.6,194,194.4,194.8,195.2,195.6,196,196.4,196.8,197.2,197.6,198,198.4,198.8,199.2,199.6,200,200.4,200.8,201.2,201.6,202,202.4,202.8,203.2,203.6,204,204.4,204.8,205.2,205.6,206,206.4,206.8,207.2,207.6,208,208.4,208.8,209.2,209.6,210],"labels":false,"title":null,"tickSize":{"condition":{"test":"abs(datum.value/2-round(datum.value/2))<0.01","value":-6},"value":-3}}},
               "y":{"field":"v","type":"quantitative","scale":{"domain":[0,150],"nice":false,"zero":false},"axis":null},"text":{"field":"t"}}},
  {"data":{"values":[{"e":191.92,"v":123.7,"t":"W"},{"e":192.88,"v":110.3,"t":"X"},{"e":193.45,"v":83,"t":"Y"},{"e":194.27,"v":93.7,"t":"Z"},{"e":190.56,"v":63.7,"t":"V"}]},"mark":{"type":"text","align":"center","baseline":"middle","fontSize":21},
   "encoding":{"x":{"field":"e","type":"quantitative","scale":{"domain":[188,210],"nice":false,"zero":false},"axis":null},"y":{"field":"v","type":"quantitative","scale":{"domain":[0,150],"nice":false,"zero":false},"axis":null},"text":{"field":"t"}}},
  {"data":{"values":[{"e":195.33,"v":169,"t":"π* states"},{"e":204.97,"v":169,"t":"σ* states"}]},"mark":{"type":"text","align":"center","baseline":"middle","fontSize":18},
   "encoding":{"x":{"field":"e","type":"quantitative","scale":{"domain":[188,210],"nice":false,"zero":false},"axis":null},"y":{"field":"v","type":"quantitative","scale":{"domain":[0,150],"nice":false,"zero":false},"axis":null},"text":{"field":"t"}}},
  {"data":{"values":[{"e":190.72,"e2":197.2,"v":157,"v2":157},{"e":197.3,"e2":210,"v":157,"v2":157},{"e":190.75,"e2":191.05,"v":50.3,"v2":33}]},"mark":{"type":"rule","stroke":"#222","strokeWidth":0.9},
   "encoding":{"x":{"field":"e","type":"quantitative","scale":{"domain":[188,210],"nice":false,"zero":false},"axis":null},"x2":{"field":"e2"},"y":{"field":"v","type":"quantitative","scale":{"domain":[0,150],"nice":false,"zero":false},"axis":null},"y2":{"field":"v2"}}},
  {"data":{"values":[{"e":190.72,"v":157,"h":"l"},{"e":197.2,"v":157,"h":"r"},{"e":197.3,"v":157,"h":"l"},{"e":210,"v":157,"h":"r"}]},"mark":{"type":"point","filled":true,"size":42,"fill":"#222","opacity":1,"strokeWidth":0},
   "encoding":{"x":{"field":"e","type":"quantitative","scale":{"domain":[188,210],"nice":false,"zero":false},"axis":null},"y":{"field":"v","type":"quantitative","scale":{"domain":[0,150],"nice":false,"zero":false},"axis":null},"shape":{"field":"h","type":"nominal","scale":{"domain":["l","r"],"range":["M0,0L2,-0.6L2,0.6Z","M0,0L-2,-0.6L-2,0.6Z"]},"legend":null}}},
  {"data":{"values":[{"e":191.05,"v":32}]},"mark":{"type":"point","filled":true,"size":64,"fill":"black","opacity":1,"strokeWidth":0,"shape":"M0,0L-0.6,-2L0.6,-2Z","angle":-17},
   "encoding":{"x":{"field":"e","type":"quantitative","scale":{"domain":[188,210],"nice":false,"zero":false},"axis":null},"y":{"field":"v","type":"quantitative","scale":{"domain":[0,150],"nice":false,"zero":false},"axis":null}}}
 ]
},
{
 "width":420,"height":150,
 "resolve":{"axis":{"x":"independent"}},
 "layer":[
  {"data":{"name":"r1"},"mark":{"type":"line","stroke":"black","strokeWidth":1.2},
   "encoding":{"x":{"field":"e","type":"quantitative","scale":{"domain":[395,420],"nice":false,"zero":false},"axis":{"orient":"bottom","values":[395,396,397,398,399,400,401,402,403,404,405,406,407,408,409,410,411,412,413,414,415,416,417,418,419,420],"labels":false,"title":null,"tickSize":{"condition":{"test":"abs(datum.value/3-round(datum.value/3))<0.01","value":-6},"value":-3}}},
               "y":{"field":"v","type":"quantitative","scale":{"domain":[0,150],"nice":false,"zero":false},"axis":null}}},
  {"data":{"values":[{"e":419.48,"v":131,"t":"defective h-BN thin film"}]},"mark":{"type":"text","align":"right","baseline":"middle","fontSize":20},
   "encoding":{"x":{"field":"e","type":"quantitative","scale":{"domain":[395,420],"nice":false,"zero":false},"axis":{"orient":"top","values":[395,396,397,398,399,400,401,402,403,404,405,406,407,408,409,410,411,412,413,414,415,416,417,418,419,420],"labels":false,"title":null,"tickSize":{"condition":{"test":"abs(datum.value/3-round(datum.value/3))<0.01","value":-6},"value":-3}}},
               "y":{"field":"v","type":"quantitative","scale":{"domain":[0,150],"nice":false,"zero":false},"axis":null},"text":{"field":"t"}}},
  {"data":{"values":[{"e":401.49,"v":118.7,"t":"M"},{"e":398.66,"v":78.7,"t":"L"}]},"mark":{"type":"text","align":"center","baseline":"middle","fontSize":21},
   "encoding":{"x":{"field":"e","type":"quantitative","scale":{"domain":[395,420],"nice":false,"zero":false},"axis":null},"y":{"field":"v","type":"quantitative","scale":{"domain":[0,150],"nice":false,"zero":false},"axis":null},"text":{"field":"t"}}},
  {"data":{"values":[{"e":402.1,"v":167,"t":"π* states"},{"e":414.4,"v":167,"t":"σ* states"}]},"mark":{"type":"text","align":"center","baseline":"middle","fontSize":18},
   "encoding":{"x":{"field":"e","type":"quantitative","scale":{"domain":[395,420],"nice":false,"zero":false},"axis":null},"y":{"field":"v","type":"quantitative","scale":{"domain":[0,150],"nice":false,"zero":false},"axis":null},"text":{"field":"t"}}},
  {"data":{"values":[{"e":397.9,"e2":405.15,"v":155.3,"v2":155.3},{"e":405.75,"e2":420,"v":155.3,"v2":155.3},{"e":398.86,"e2":399.14,"v":65.3,"v2":46}]},"mark":{"type":"rule","stroke":"#222","strokeWidth":0.9},
   "encoding":{"x":{"field":"e","type":"quantitative","scale":{"domain":[395,420],"nice":false,"zero":false},"axis":null},"x2":{"field":"e2"},"y":{"field":"v","type":"quantitative","scale":{"domain":[0,150],"nice":false,"zero":false},"axis":null},"y2":{"field":"v2"}}},
  {"data":{"values":[{"e":397.9,"v":155.3,"h":"l"},{"e":405.15,"v":155.3,"h":"r"},{"e":405.75,"v":155.3,"h":"l"},{"e":420,"v":155.3,"h":"r"}]},"mark":{"type":"point","filled":true,"size":42,"fill":"#222","opacity":1,"strokeWidth":0},
   "encoding":{"x":{"field":"e","type":"quantitative","scale":{"domain":[395,420],"nice":false,"zero":false},"axis":null},"y":{"field":"v","type":"quantitative","scale":{"domain":[0,150],"nice":false,"zero":false},"axis":null},"shape":{"field":"h","type":"nominal","scale":{"domain":["l","r"],"range":["M0,0L2,-0.6L2,0.6Z","M0,0L-2,-0.6L-2,0.6Z"]},"legend":null}}},
  {"data":{"values":[{"e":399.14,"v":45.3}]},"mark":{"type":"point","filled":true,"size":64,"fill":"black","opacity":1,"strokeWidth":0,"shape":"M0,0L-0.6,-2L0.6,-2Z","angle":-13},
   "encoding":{"x":{"field":"e","type":"quantitative","scale":{"domain":[395,420],"nice":false,"zero":false},"axis":null},"y":{"field":"v","type":"quantitative","scale":{"domain":[0,150],"nice":false,"zero":false},"axis":null}}}
 ]
},
{
 "width":421,"height":200,
 "resolve":{"axis":{"x":"independent"}},
 "layer":[
  {"data":{"name":"l2"},"mark":{"type":"line","strokeWidth":1.2},
   "encoding":{"x":{"field":"e","type":"quantitative","scale":{"domain":[188,210],"nice":false,"zero":false},"axis":{"orient":"bottom","values":[188,188.4,188.8,189.2,189.6,190,190.4,190.8,191.2,191.6,192,192.4,192.8,193.2,193.6,194,194.4,194.8,195.2,195.6,196,196.4,196.8,197.2,197.6,198,198.4,198.8,199.2,199.6,200,200.4,200.8,201.2,201.6,202,202.4,202.8,203.2,203.6,204,204.4,204.8,205.2,205.6,206,206.4,206.8,207.2,207.6,208,208.4,208.8,209.2,209.6,210],"labels":false,"title":null,"tickSize":{"condition":{"test":"abs(datum.value/2-round(datum.value/2))<0.01","value":-6},"value":-3}}},
               "y":{"field":"v","type":"quantitative","scale":{"domain":[0,200],"nice":false,"zero":false},"axis":null},
               "color":{"field":"s","type":"nominal","scale":{"domain":["75","55","0"],"range":["#3953a4","#ec2227","#111111"]},"legend":null}}},
  {"data":{"values":[{"e":209.53,"v":176,"t":"exposed to air"},{"e":209.53,"v":20,"t":"N1s - 2ⁿᵈ order"}]},"mark":{"type":"text","align":"right","baseline":"middle","fontSize":20},
   "encoding":{"x":{"field":"e","type":"quantitative","scale":{"domain":[188,210],"nice":false,"zero":false},"axis":{"orient":"top","values":[188,188.4,188.8,189.2,189.6,190,190.4,190.8,191.2,191.6,192,192.4,192.8,193.2,193.6,194,194.4,194.8,195.2,195.6,196,196.4,196.8,197.2,197.6,198,198.4,198.8,199.2,199.6,200,200.4,200.8,201.2,201.6,202,202.4,202.8,203.2,203.6,204,204.4,204.8,205.2,205.6,206,206.4,206.8,207.2,207.6,208,208.4,208.8,209.2,209.6,210],"labels":false,"title":null,"tickSize":{"condition":{"test":"abs(datum.value/2-round(datum.value/2))<0.01","value":-6},"value":-3}}},
               "y":{"field":"v","type":"quantitative","scale":{"domain":[0,200],"nice":false,"zero":false},"axis":null},"text":{"field":"t"}}},
  {"data":{"values":[{"e":188.37,"v":140,"t":"75º"},{"e":188.37,"v":93,"t":"55º"},{"e":188.37,"v":31,"t":"0º"}]},"mark":{"type":"text","align":"left","baseline":"middle","fontSize":20},
   "encoding":{"x":{"field":"e","type":"quantitative","scale":{"domain":[188,210],"nice":false,"zero":false},"axis":null},"y":{"field":"v","type":"quantitative","scale":{"domain":[0,200],"nice":false,"zero":false},"axis":null},"text":{"field":"t"}}},
  {"data":{"values":[{"e":200.0}]},"mark":{"type":"rule","stroke":"#333","strokeWidth":1,"strokeDash":[1.5,1.5]},
   "encoding":{"x":{"field":"e","type":"quantitative","scale":{"domain":[188,210],"nice":false,"zero":false},"axis":null}}},
  {"data":{"values":[{"e":200.0,"e2":210,"v":8,"v2":8}]},"mark":{"type":"rule","stroke":"#111","strokeWidth":1.2},
   "encoding":{"x":{"field":"e","type":"quantitative","scale":{"domain":[188,210],"nice":false,"zero":false},"axis":null},"x2":{"field":"e2"},"y":{"field":"v","type":"quantitative","scale":{"domain":[0,200],"nice":false,"zero":false},"axis":null},"y2":{"field":"v2"}}},
  {"data":{"values":[{"e":200.0,"v":8,"h":"l"},{"e":210,"v":8,"h":"r"}]},"mark":{"type":"point","filled":true,"size":64,"fill":"#111","opacity":1,"strokeWidth":0},
   "encoding":{"x":{"field":"e","type":"quantitative","scale":{"domain":[188,210],"nice":false,"zero":false},"axis":null},"y":{"field":"v","type":"quantitative","scale":{"domain":[0,200],"nice":false,"zero":false},"axis":null},"shape":{"field":"h","type":"nominal","scale":{"domain":["l","r"],"range":["M0,0L2,-0.6L2,0.6Z","M0,0L-2,-0.6L-2,0.6Z"]},"legend":null}}}
 ]
},
{
 "width":420,"height":200,
 "resolve":{"axis":{"x":"independent"}},
 "layer":[
  {"data":{"name":"r2"},"mark":{"type":"line","strokeWidth":1.2},
   "encoding":{"x":{"field":"e","type":"quantitative","scale":{"domain":[395,420],"nice":false,"zero":false},"axis":{"orient":"bottom","values":[395,396,397,398,399,400,401,402,403,404,405,406,407,408,409,410,411,412,413,414,415,416,417,418,419,420],"labels":false,"title":null,"tickSize":{"condition":{"test":"abs(datum.value/3-round(datum.value/3))<0.01","value":-6},"value":-3}}},
               "y":{"field":"v","type":"quantitative","scale":{"domain":[0,200],"nice":false,"zero":false},"axis":null},
               "color":{"field":"s","type":"nominal","scale":{"domain":["75","55","0"],"range":["#3953a4","#ec2227","#111111"]},"legend":null}}},
  {"data":{"values":[{"e":419.6,"v":176,"t":"exposed to air"}]},"mark":{"type":"text","align":"right","baseline":"middle","fontSize":20},
   "encoding":{"x":{"field":"e","type":"quantitative","scale":{"domain":[395,420],"nice":false,"zero":false},"axis":{"orient":"top","values":[395,396,397,398,399,400,401,402,403,404,405,406,407,408,409,410,411,412,413,414,415,416,417,418,419,420],"labels":false,"title":null,"tickSize":{"condition":{"test":"abs(datum.value/3-round(datum.value/3))<0.01","value":-6},"value":-3}}},
               "y":{"field":"v","type":"quantitative","scale":{"domain":[0,200],"nice":false,"zero":false},"axis":null},"text":{"field":"t"}}},
  {"data":{"values":[{"e":395.42,"v":116,"t":"75º"},{"e":395.42,"v":68,"t":"55º"},{"e":395.42,"v":23,"t":"0º"}]},"mark":{"type":"text","align":"left","baseline":"middle","fontSize":20},
   "encoding":{"x":{"field":"e","type":"quantitative","scale":{"domain":[395,420],"nice":false,"zero":false},"axis":null},"y":{"field":"v","type":"quantitative","scale":{"domain":[0,200],"nice":false,"zero":false},"axis":null},"text":{"field":"t"}}},
  {"data":{"values":[{"e":400.33}]},"mark":{"type":"rule","stroke":"#333","strokeWidth":1,"strokeDash":[1.5,1.5]},
   "encoding":{"x":{"field":"e","type":"quantitative","scale":{"domain":[395,420],"nice":false,"zero":false},"axis":null}}}
 ]
},
{
 "width":421,"height":200,
 "resolve":{"axis":{"x":"independent"}},
 "layer":[
  {"data":{"name":"l3"},"mark":{"type":"line","strokeWidth":1.2},
   "encoding":{"x":{"field":"e","type":"quantitative","scale":{"domain":[188,210],"nice":false,"zero":false},"axis":{"orient":"bottom","values":[188,188.4,188.8,189.2,189.6,190,190.4,190.8,191.2,191.6,192,192.4,192.8,193.2,193.6,194,194.4,194.8,195.2,195.6,196,196.4,196.8,197.2,197.6,198,198.4,198.8,199.2,199.6,200,200.4,200.8,201.2,201.6,202,202.4,202.8,203.2,203.6,204,204.4,204.8,205.2,205.6,206,206.4,206.8,207.2,207.6,208,208.4,208.8,209.2,209.6,210],"labels":false,"title":null,"tickSize":{"condition":{"test":"abs(datum.value/2-round(datum.value/2))<0.01","value":-6},"value":-3}}},
               "y":{"field":"v","type":"quantitative","scale":{"domain":[0,200],"nice":false,"zero":false},"axis":null},
               "color":{"field":"s","type":"nominal","scale":{"domain":["75","55","0"],"range":["#3953a4","#ec2227","#111111"]},"legend":null}}},
  {"data":{"values":[{"e":209.0,"v":174,"t":"Ar⁺ sputtered"},{"e":208.9,"v":29,"t":"N1s - 2ⁿᵈ order"}]},"mark":{"type":"text","align":"right","baseline":"middle","fontSize":20},
   "encoding":{"x":{"field":"e","type":"quantitative","scale":{"domain":[188,210],"nice":false,"zero":false},"axis":{"orient":"top","values":[188,188.4,188.8,189.2,189.6,190,190.4,190.8,191.2,191.6,192,192.4,192.8,193.2,193.6,194,194.4,194.8,195.2,195.6,196,196.4,196.8,197.2,197.6,198,198.4,198.8,199.2,199.6,200,200.4,200.8,201.2,201.6,202,202.4,202.8,203.2,203.6,204,204.4,204.8,205.2,205.6,206,206.4,206.8,207.2,207.6,208,208.4,208.8,209.2,209.6,210],"labels":false,"title":null,"tickSize":{"condition":{"test":"abs(datum.value/2-round(datum.value/2))<0.01","value":-6},"value":-3}}},
               "y":{"field":"v","type":"quantitative","scale":{"domain":[0,200],"nice":false,"zero":false},"axis":null},"text":{"field":"t"}}},
  {"data":{"values":[{"e":188.37,"v":121,"t":"75º"},{"e":188.37,"v":77,"t":"55º"},{"e":188.37,"v":37,"t":"0º"}]},"mark":{"type":"text","align":"left","baseline":"middle","fontSize":20},
   "encoding":{"x":{"field":"e","type":"quantitative","scale":{"domain":[188,210],"nice":false,"zero":false},"axis":null},"y":{"field":"v","type":"quantitative","scale":{"domain":[0,200],"nice":false,"zero":false},"axis":null},"text":{"field":"t"}}},
  {"data":{"values":[{"e":186.56,"v":102,"t":"B1s - XANES Intensity (arb. units)"}]},"mark":{"type":"text","align":"center","baseline":"middle","fontSize":29,"angle":270},
   "encoding":{"x":{"field":"e","type":"quantitative","scale":{"domain":[188,210],"nice":false,"zero":false},"axis":null},"y":{"field":"v","type":"quantitative","scale":{"domain":[0,200],"nice":false,"zero":false},"axis":null},"text":{"field":"t"}}},
  {"data":{"values":[{"e":198.8}]},"mark":{"type":"rule","stroke":"#333","strokeWidth":1,"strokeDash":[1.5,1.5]},
   "encoding":{"x":{"field":"e","type":"quantitative","scale":{"domain":[188,210],"nice":false,"zero":false},"axis":null}}},
  {"data":{"values":[{"e":198.8,"e2":210,"v":16,"v2":16}]},"mark":{"type":"rule","stroke":"#111","strokeWidth":1.2},
   "encoding":{"x":{"field":"e","type":"quantitative","scale":{"domain":[188,210],"nice":false,"zero":false},"axis":null},"x2":{"field":"e2"},"y":{"field":"v","type":"quantitative","scale":{"domain":[0,200],"nice":false,"zero":false},"axis":null},"y2":{"field":"v2"}}},
  {"data":{"values":[{"e":198.8,"v":16,"h":"l"},{"e":210,"v":16,"h":"r"}]},"mark":{"type":"point","filled":true,"size":64,"fill":"#111","opacity":1,"strokeWidth":0},
   "encoding":{"x":{"field":"e","type":"quantitative","scale":{"domain":[188,210],"nice":false,"zero":false},"axis":null},"y":{"field":"v","type":"quantitative","scale":{"domain":[0,200],"nice":false,"zero":false},"axis":null},"shape":{"field":"h","type":"nominal","scale":{"domain":["l","r"],"range":["M0,0L2,-0.6L2,0.6Z","M0,0L-2,-0.6L-2,0.6Z"]},"legend":null}}}
 ]
},
{
 "width":420,"height":200,
 "resolve":{"axis":{"x":"independent"}},
 "layer":[
  {"data":{"name":"r3"},"mark":{"type":"line","strokeWidth":1.2},
   "encoding":{"x":{"field":"e","type":"quantitative","scale":{"domain":[395,420],"nice":false,"zero":false},"axis":{"orient":"bottom","values":[395,396,397,398,399,400,401,402,403,404,405,406,407,408,409,410,411,412,413,414,415,416,417,418,419,420],"labels":false,"title":null,"tickSize":{"condition":{"test":"abs(datum.value/3-round(datum.value/3))<0.01","value":-6},"value":-3}}},
               "y":{"field":"v","type":"quantitative","scale":{"domain":[0,200],"nice":false,"zero":false},"axis":null},
               "color":{"field":"s","type":"nominal","scale":{"domain":["75","55","0"],"range":["#3953a4","#ec2227","#111111"]},"legend":null}}},
  {"data":{"values":[{"e":419.18,"v":172,"t":"Ar⁺ sputtered"}]},"mark":{"type":"text","align":"right","baseline":"middle","fontSize":20},
   "encoding":{"x":{"field":"e","type":"quantitative","scale":{"domain":[395,420],"nice":false,"zero":false},"axis":{"orient":"top","values":[395,396,397,398,399,400,401,402,403,404,405,406,407,408,409,410,411,412,413,414,415,416,417,418,419,420],"labels":false,"title":null,"tickSize":{"condition":{"test":"abs(datum.value/3-round(datum.value/3))<0.01","value":-6},"value":-3}}},
               "y":{"field":"v","type":"quantitative","scale":{"domain":[0,200],"nice":false,"zero":false},"axis":null},"text":{"field":"t"}}},
  {"data":{"values":[{"e":395.42,"v":122,"t":"75º"},{"e":395.42,"v":65,"t":"55º"},{"e":395.42,"v":21,"t":"0º"}]},"mark":{"type":"text","align":"left","baseline":"middle","fontSize":20},
   "encoding":{"x":{"field":"e","type":"quantitative","scale":{"domain":[395,420],"nice":false,"zero":false},"axis":null},"y":{"field":"v","type":"quantitative","scale":{"domain":[0,200],"nice":false,"zero":false},"axis":null},"text":{"field":"t"}}},
  {"data":{"values":[{"e":393.39,"v":102,"t":"N1s - XANES Intensity (arb. units)"}]},"mark":{"type":"text","align":"center","baseline":"middle","fontSize":29,"angle":270},
   "encoding":{"x":{"field":"e","type":"quantitative","scale":{"domain":[395,420],"nice":false,"zero":false},"axis":null},"y":{"field":"v","type":"quantitative","scale":{"domain":[0,200],"nice":false,"zero":false},"axis":null},"text":{"field":"t"}}},
  {"data":{"values":[{"e":400.29}]},"mark":{"type":"rule","stroke":"#333","strokeWidth":1,"strokeDash":[1.5,1.5]},
   "encoding":{"x":{"field":"e","type":"quantitative","scale":{"domain":[395,420],"nice":false,"zero":false},"axis":null}}},
  {"data":{"values":[{"e":401.39,"v":61.7,"v2":188.3}]},"mark":{"type":"rule","stroke":"#999","strokeWidth":1.5},
   "encoding":{"x":{"field":"e","type":"quantitative","scale":{"domain":[395,420],"nice":false,"zero":false},"axis":null},"y":{"field":"v","type":"quantitative","scale":{"domain":[0,200],"nice":false,"zero":false},"axis":null},"y2":{"field":"v2"}}}
 ]
},
{
 "width":421,"height":200,
 "resolve":{"axis":{"x":"independent"}},
 "layer":[
  {"data":{"name":"l4"},"mark":{"type":"line","strokeWidth":1.2},
   "encoding":{"x":{"field":"e","type":"quantitative","scale":{"domain":[188,210],"nice":false,"zero":false},"axis":{"orient":"bottom","values":[188,188.4,188.8,189.2,189.6,190,190.4,190.8,191.2,191.6,192,192.4,192.8,193.2,193.6,194,194.4,194.8,195.2,195.6,196,196.4,196.8,197.2,197.6,198,198.4,198.8,199.2,199.6,200,200.4,200.8,201.2,201.6,202,202.4,202.8,203.2,203.6,204,204.4,204.8,205.2,205.6,206,206.4,206.8,207.2,207.6,208,208.4,208.8,209.2,209.6,210],"labels":false,"title":null,"tickSize":{"condition":{"test":"abs(datum.value/2-round(datum.value/2))<0.01","value":-6},"value":-3}}},
               "y":{"field":"v","type":"quantitative","scale":{"domain":[0,200],"nice":false,"zero":false},"axis":null},
               "color":{"field":"s","type":"nominal","scale":{"domain":["75","55","0"],"range":["#3953a4","#ec2227","#111111"]},"legend":null}}},
  {"data":{"values":[{"e":209.16,"v":173,"t":"clean HOPBN"},{"e":209.32,"v":21,"t":"N1s - 2ⁿᵈ order"}]},"mark":{"type":"text","align":"right","baseline":"middle","fontSize":20},
   "encoding":{"x":{"field":"e","type":"quantitative","scale":{"domain":[188,210],"nice":false,"zero":false},"axis":{"orient":"top","values":[188,188.4,188.8,189.2,189.6,190,190.4,190.8,191.2,191.6,192,192.4,192.8,193.2,193.6,194,194.4,194.8,195.2,195.6,196,196.4,196.8,197.2,197.6,198,198.4,198.8,199.2,199.6,200,200.4,200.8,201.2,201.6,202,202.4,202.8,203.2,203.6,204,204.4,204.8,205.2,205.6,206,206.4,206.8,207.2,207.6,208,208.4,208.8,209.2,209.6,210],"labels":false,"title":null,"tickSize":{"condition":{"test":"abs(datum.value/2-round(datum.value/2))<0.01","value":-6},"value":-3}}},
               "y":{"field":"v","type":"quantitative","scale":{"domain":[0,200],"nice":false,"zero":false},"axis":null},"text":{"field":"t"}}},
  {"data":{"values":[{"e":188.37,"v":122.7,"t":"75º"},{"e":188.37,"v":75,"t":"55º"},{"e":188.37,"v":31.7,"t":"0º"}]},"mark":{"type":"text","align":"left","baseline":"middle","fontSize":20},
   "encoding":{"x":{"field":"e","type":"quantitative","scale":{"domain":[188,210],"nice":false,"zero":false},"axis":null},"y":{"field":"v","type":"quantitative","scale":{"domain":[0,200],"nice":false,"zero":false},"axis":null},"text":{"field":"t"}}},
  {"data":{"values":[{"e":200.16}]},"mark":{"type":"rule","stroke":"#333","strokeWidth":1,"strokeDash":[1.5,1.5]},
   "encoding":{"x":{"field":"e","type":"quantitative","scale":{"domain":[188,210],"nice":false,"zero":false},"axis":null}}},
  {"data":{"values":[{"e":200.16,"e2":210,"v":8,"v2":8}]},"mark":{"type":"rule","stroke":"#111","strokeWidth":1.2},
   "encoding":{"x":{"field":"e","type":"quantitative","scale":{"domain":[188,210],"nice":false,"zero":false},"axis":null},"x2":{"field":"e2"},"y":{"field":"v","type":"quantitative","scale":{"domain":[0,200],"nice":false,"zero":false},"axis":null},"y2":{"field":"v2"}}},
  {"data":{"values":[{"e":200.16,"v":8,"h":"l"},{"e":210,"v":8,"h":"r"}]},"mark":{"type":"point","filled":true,"size":64,"fill":"#111","opacity":1,"strokeWidth":0},
   "encoding":{"x":{"field":"e","type":"quantitative","scale":{"domain":[188,210],"nice":false,"zero":false},"axis":null},"y":{"field":"v","type":"quantitative","scale":{"domain":[0,200],"nice":false,"zero":false},"axis":null},"shape":{"field":"h","type":"nominal","scale":{"domain":["l","r"],"range":["M0,0L2,-0.6L2,0.6Z","M0,0L-2,-0.6L-2,0.6Z"]},"legend":null}}}
 ]
},
{
 "width":420,"height":200,
 "resolve":{"axis":{"x":"independent"}},
 "layer":[
  {"data":{"name":"r4"},"mark":{"type":"line","strokeWidth":1.2},
   "encoding":{"x":{"field":"e","type":"quantitative","scale":{"domain":[395,420],"nice":false,"zero":false},"axis":{"orient":"bottom","values":[395,396,397,398,399,400,401,402,403,404,405,406,407,408,409,410,411,412,413,414,415,416,417,418,419,420],"labels":false,"title":null,"tickSize":{"condition":{"test":"abs(datum.value/3-round(datum.value/3))<0.01","value":-6},"value":-3}}},
               "y":{"field":"v","type":"quantitative","scale":{"domain":[0,200],"nice":false,"zero":false},"axis":null},
               "color":{"field":"s","type":"nominal","scale":{"domain":["75","55","0"],"range":["#3953a4","#ec2227","#111111"]},"legend":null}}},
  {"data":{"values":[{"e":419.6,"v":174,"t":"clean HOPBN"}]},"mark":{"type":"text","align":"right","baseline":"middle","fontSize":20},
   "encoding":{"x":{"field":"e","type":"quantitative","scale":{"domain":[395,420],"nice":false,"zero":false},"axis":{"orient":"top","values":[395,396,397,398,399,400,401,402,403,404,405,406,407,408,409,410,411,412,413,414,415,416,417,418,419,420],"labels":false,"title":null,"tickSize":{"condition":{"test":"abs(datum.value/3-round(datum.value/3))<0.01","value":-6},"value":-3}}},
               "y":{"field":"v","type":"quantitative","scale":{"domain":[0,200],"nice":false,"zero":false},"axis":null},"text":{"field":"t"}}},
  {"data":{"values":[{"e":395.52,"v":121.7,"t":"75º"},{"e":395.52,"v":76.7,"t":"55º"},{"e":395.52,"v":27.3,"t":"0º"}]},"mark":{"type":"text","align":"left","baseline":"middle","fontSize":20},
   "encoding":{"x":{"field":"e","type":"quantitative","scale":{"domain":[395,420],"nice":false,"zero":false},"axis":null},"y":{"field":"v","type":"quantitative","scale":{"domain":[0,200],"nice":false,"zero":false},"axis":null},"text":{"field":"t"}}},
  {"data":{"values":[{"e":400.25}]},"mark":{"type":"rule","stroke":"#333","strokeWidth":1,"strokeDash":[1.5,1.5]},
   "encoding":{"x":{"field":"e","type":"quantitative","scale":{"domain":[395,420],"nice":false,"zero":false},"axis":null}}}
 ]
},
{
 "width":421,"height":150,
 "resolve":{"axis":{"x":"independent"}},
 "layer":[
  {"data":{"name":"l5"},"mark":{"type":"line","stroke":"black","strokeWidth":1.2},
   "encoding":{"x":{"field":"e","type":"quantitative","scale":{"domain":[188,210],"nice":false,"zero":false},"axis":{"orient":"bottom","values":[188,188.4,188.8,189.2,189.6,190,190.4,190.8,191.2,191.6,192,192.4,192.8,193.2,193.6,194,194.4,194.8,195.2,195.6,196,196.4,196.8,197.2,197.6,198,198.4,198.8,199.2,199.6,200,200.4,200.8,201.2,201.6,202,202.4,202.8,203.2,203.6,204,204.4,204.8,205.2,205.6,206,206.4,206.8,207.2,207.6,208,208.4,208.8,209.2,209.6,210],"labels":true,"labelExpr":"abs(datum.value/2-round(datum.value/2))<0.01 ? format(datum.value,'d') : ''","labelPadding":9,"title":"Photon Energy (eV)","titlePadding":0,"tickSize":{"condition":{"test":"abs(datum.value/2-round(datum.value/2))<0.01","value":-6},"value":-3}}},
               "y":{"field":"v","type":"quantitative","scale":{"domain":[0,150],"nice":false,"zero":false},"axis":null}}},
  {"data":{"values":[{"e":209.2,"v":122,"t":"polycrystalline BN"},{"e":209.37,"v":95,"t":"(no 2ⁿᵈ order light)"}]},"mark":{"type":"text","align":"right","baseline":"middle","fontSize":20},
   "encoding":{"x":{"field":"e","type":"quantitative","scale":{"domain":[188,210],"nice":false,"zero":false},"axis":{"orient":"top","values":[188,188.4,188.8,189.2,189.6,190,190.4,190.8,191.2,191.6,192,192.4,192.8,193.2,193.6,194,194.4,194.8,195.2,195.6,196,196.4,196.8,197.2,197.6,198,198.4,198.8,199.2,199.6,200,200.4,200.8,201.2,201.6,202,202.4,202.8,203.2,203.6,204,204.4,204.8,205.2,205.6,206,206.4,206.8,207.2,207.6,208,208.4,208.8,209.2,209.6,210],"labels":false,"title":null,"tickSize":{"condition":{"test":"abs(datum.value/2-round(datum.value/2))<0.01","value":-6},"value":-3}}},
               "y":{"field":"v","type":"quantitative","scale":{"domain":[0,150],"nice":false,"zero":false},"axis":null},"text":{"field":"t"}}},
  {"data":{"values":[{"e":192.18,"v":133.7,"t":"W"},{"e":197.91,"v":98.7,"t":"S₁"},{"e":199.27,"v":98.7,"t":"S₂"}]},"mark":{"type":"text","align":"center","baseline":"middle","fontSize":21},
   "encoding":{"x":{"field":"e","type":"quantitative","scale":{"domain":[188,210],"nice":false,"zero":false},"axis":null},"y":{"field":"v","type":"quantitative","scale":{"domain":[0,150],"nice":false,"zero":false},"axis":null},"text":{"field":"t"}}},
  {"data":{"values":[{"e":197.9,"v":87,"v2":71.3},{"e":199.12,"v":87,"v2":71.3}]},"mark":{"type":"rule","stroke":"#111","strokeWidth":1},
   "encoding":{"x":{"field":"e","type":"quantitative","scale":{"domain":[188,210],"nice":false,"zero":false},"axis":null},"y":{"field":"v","type":"quantitative","scale":{"domain":[0,150],"nice":false,"zero":false},"axis":null},"y2":{"field":"v2"}}}
 ]
},
{
 "width":420,"height":150,
 "resolve":{"axis":{"x":"independent"}},
 "layer":[
  {"data":{"name":"r5"},"mark":{"type":"line","stroke":"black","strokeWidth":1.2},
   "encoding":{"x":{"field":"e","type":"quantitative","scale":{"domain":[395,420],"nice":false,"zero":false},"axis":{"orient":"bottom","values":[395,396,397,398,399,400,401,402,403,404,405,406,407,408,409,410,411,412,413,414,415,416,417,418,419,420],"labels":true,"labelExpr":"abs(datum.value/3-round(datum.value/3))<0.01 ? format(datum.value,'d') : ''","labelPadding":9,"title":"Photon Energy (eV)","titlePadding":0,"titleX":217,"tickSize":{"condition":{"test":"abs(datum.value/3-round(datum.value/3))<0.01","value":-6},"value":-3}}},
               "y":{"field":"v","type":"quantitative","scale":{"domain":[0,150],"nice":false,"zero":false},"axis":null}}},
  {"data":{"values":[{"e":419.42,"v":127,"t":"polycrystalline BN"}]},"mark":{"type":"text","align":"right","baseline":"middle","fontSize":20},
   "encoding":{"x":{"field":"e","type":"quantitative","scale":{"domain":[395,420],"nice":false,"zero":false},"axis":{"orient":"top","values":[395,396,397,398,399,400,401,402,403,404,405,406,407,408,409,410,411,412,413,414,415,416,417,418,419,420],"labels":false,"title":null,"tickSize":{"condition":{"test":"abs(datum.value/3-round(datum.value/3))<0.01","value":-6},"value":-3}}},
               "y":{"field":"v","type":"quantitative","scale":{"domain":[0,150],"nice":false,"zero":false},"axis":null},"text":{"field":"t"}}},
  {"data":{"values":[{"e":401.49,"v":100.3,"t":"M"},{"e":405.9,"v":123,"t":"S₃"},{"e":408.52,"v":90.3,"t":"S₄"}]},"mark":{"type":"text","align":"center","baseline":"middle","fontSize":21},
   "encoding":{"x":{"field":"e","type":"quantitative","scale":{"domain":[395,420],"nice":false,"zero":false},"axis":null},"y":{"field":"v","type":"quantitative","scale":{"domain":[0,150],"nice":false,"zero":false},"axis":null},"text":{"field":"t"}}},
  {"data":{"values":[{"e":405.71,"v":106,"v2":91.3},{"e":408.17,"v":124.7,"v2":103.7}]},"mark":{"type":"rule","stroke":"#111","strokeWidth":1},
   "encoding":{"x":{"field":"e","type":"quantitative","scale":{"domain":[395,420],"nice":false,"zero":false},"axis":null},"y":{"field":"v","type":"quantitative","scale":{"domain":[0,150],"nice":false,"zero":false},"axis":null},"y2":{"field":"v2"}}}
 ]
}
]
}
